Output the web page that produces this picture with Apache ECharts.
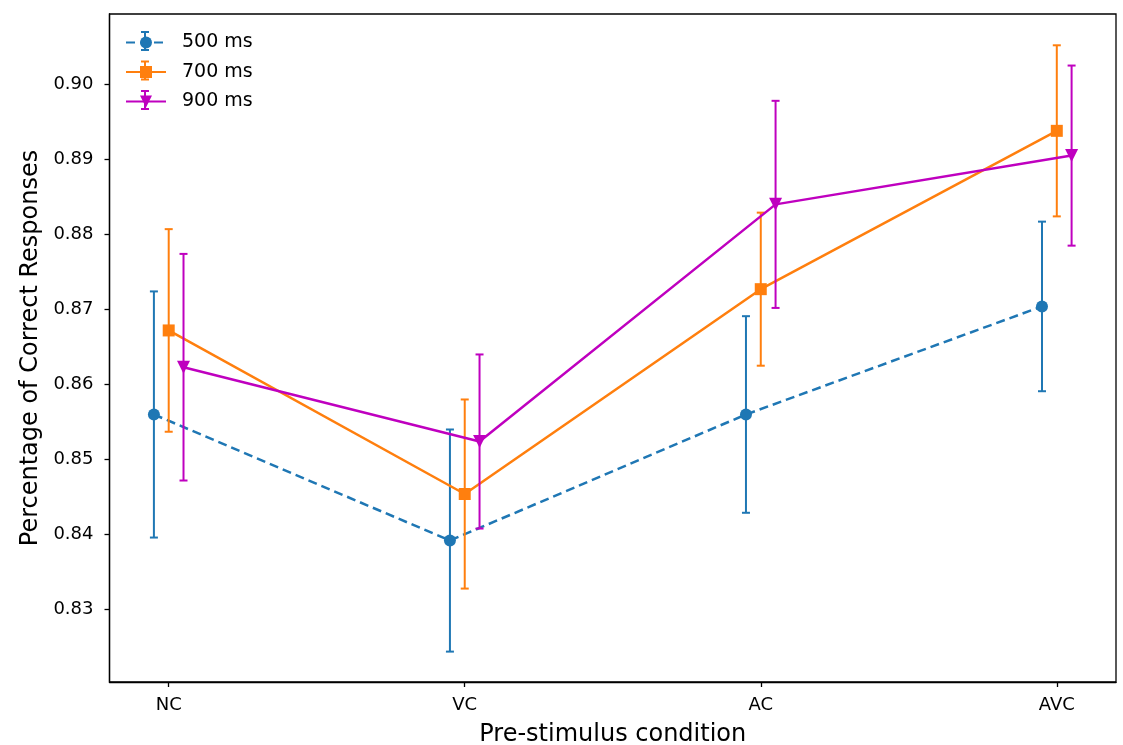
<!DOCTYPE html>
<html>
<head>
<meta charset="utf-8">
<script src="https://cdn.jsdelivr.net/npm/echarts@6/dist/echarts.min.js"></script>
<style>html,body{margin:0;padding:0;background:#fff}#c{width:1123px;height:745px}</style>
</head>
<body>
<div id="c"></div>
<script>
const categories = ['NC', 'VC', 'AC', 'AVC'];
const seriesNames = ['500 ms', '700 ms', '900 ms'];
const mean500 = [0.8560, 0.8392, 0.8560, 0.8704];
const err500  = [0.0164, 0.0148, 0.0131, 0.0113];
const mean700 = [0.8672, 0.8454, 0.8727, 0.8938];
const err700  = [0.0135, 0.0126, 0.0102, 0.0114];
const mean900 = [0.8623, 0.8524, 0.8840, 0.8905];
const err900  = [0.0151, 0.0116, 0.0138, 0.0120];
const yTicks = [0.83, 0.84, 0.85, 0.86, 0.87, 0.88, 0.89, 0.90];

const offsets = [-0.05, 0, 0.05];
const colors = ['#1f77b4', '#ff7f0e', '#bf00bf'];
const symbols = ['circle', 'rect', 'triangle'];
const rotates = [0, 0, 180];
const means = [mean500, mean700, mean900];
const errs = [err500, err700, err900];

const FONT = 'DejaVu Sans';
const series = [];
means.forEach((m, s) => {
  const pts = m.map((v, i) => [i + offsets[s], v]);
  const bars = m.map((v, i) => [i + offsets[s], v, v - errs[s][i], v + errs[s][i]]);
  series.push({
    type: 'custom',
    name: seriesNames[s] + ' err',
    z: 2 * s + 1,
    silent: true,
    data: bars,
    encode: { x: 0, y: [1, 2, 3] },
    clip: false,
    renderItem: (params, api) => {
      const x = api.value(0);
      const lo = api.coord([x, api.value(2)]);
      const hi = api.coord([x, api.value(3)]);
      const cw = 4;
      const st = { stroke: colors[s], lineWidth: 2 };
      return {
        type: 'group',
        children: [
          { type: 'line', shape: { x1: lo[0], y1: lo[1], x2: hi[0], y2: hi[1] }, style: st },
          { type: 'line', shape: { x1: lo[0] - cw, y1: lo[1], x2: lo[0] + cw, y2: lo[1] }, style: st },
          { type: 'line', shape: { x1: hi[0] - cw, y1: hi[1], x2: hi[0] + cw, y2: hi[1] }, style: st }
        ]
      };
    }
  });
  series.push({
    type: 'line',
    name: seriesNames[s],
    z: 2 * s + 2,
    data: pts,
    symbol: symbols[s],
    symbolSize: s === 2 ? 13 : 12,
    symbolRotate: rotates[s],
    showSymbol: true,
    animation: false,
    lineStyle: { color: colors[s], width: 2.5, type: s === 0 ? [9, 5] : 'solid' },
    itemStyle: { color: colors[s] },
    emphasis: { disabled: true }
  });
});

// small vertical error-bar glyphs drawn over the legend icons (legend decoration only)
const legendTop = 33, rowStep = 29.5, legendLeft = 125, legendIconW = 40;
const legendCx = legendLeft + legendIconW / 2;
const legendBars = colors.map((c, k) => {
  const cy = legendTop + 8 + k * rowStep;
  const st = { stroke: c, lineWidth: 2 };
  return {
    type: 'group', z: 100,
    children: [
      { type: 'line', shape: { x1: legendCx, y1: cy - 9, x2: legendCx, y2: cy + 9 }, style: st },
      { type: 'line', shape: { x1: legendCx - 4, y1: cy - 9, x2: legendCx + 4, y2: cy - 9 }, style: st },
      { type: 'line', shape: { x1: legendCx - 4, y1: cy + 9, x2: legendCx + 4, y2: cy + 9 }, style: st }
    ]
  };
});

const chart = echarts.init(document.getElementById('c'), null, { renderer: 'canvas' });
chart.setOption({
  animation: false,
  backgroundColor: '#fff',
  grid: { left: 109.5, right: 7, top: 14, bottom: 63, show: true, borderColor: '#000', borderWidth: 1.3, containLabel: false, outerBoundsMode: 'none' },
  legend: {
    data: seriesNames,
    orient: 'vertical',
    left: legendLeft,
    top: legendTop,
    padding: 0,
    itemWidth: legendIconW,
    itemHeight: 15,
    itemGap: 10.5,
    textStyle: { fontFamily: FONT, fontSize: 19, color: '#000', padding: [0, 0, 0, 11] }
  },
  graphic: legendBars,
  xAxis: {
    type: 'value',
    min: -0.2,
    max: 3.2,
    name: 'Pre-stimulus condition',
    nameLocation: 'middle',
    nameGap: 41,
    nameTextStyle: { fontFamily: FONT, fontSize: 24, color: '#000' },
    axisLine: { show: true, onZero: false, lineStyle: { color: '#000', width: 1.3 } },
    axisTick: { show: true, length: 5, customValues: [0, 1, 2, 3], lineStyle: { color: '#000', width: 1.3 } },
    axisLabel: {
      customValues: [0, 1, 2, 3],
      margin: 14,
      fontFamily: FONT, fontSize: 18, color: '#000',
      formatter: v => categories[Math.round(v)]
    },
    splitLine: { show: false }
  },
  yAxis: {
    type: 'value',
    min: 0.82035,
    max: 0.90937,
    name: 'Percentage of Correct Responses',
    nameLocation: 'middle',
    nameGap: 66,
    nameRotate: 90,
    nameTextStyle: { fontFamily: FONT, fontSize: 24, color: '#000' },
    axisLine: { show: true, onZero: false, lineStyle: { color: '#000', width: 1.3 } },
    axisTick: { show: true, length: 5, customValues: yTicks, lineStyle: { color: '#000', width: 1.3 } },
    axisLabel: {
      customValues: yTicks,
      margin: 16,
      fontFamily: FONT, fontSize: 18, color: '#000',
      formatter: v => v.toFixed(2)
    },
    splitLine: { show: false }
  },
  series: series
});
</script>
</body>
</html>
